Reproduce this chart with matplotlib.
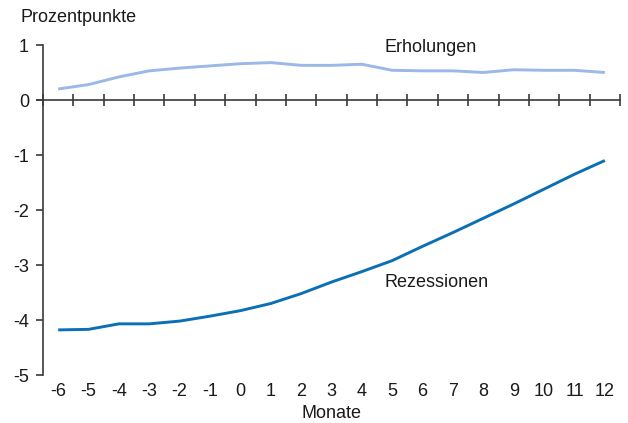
import matplotlib
matplotlib.use("Agg")
import matplotlib.pyplot as plt
import numpy as np

months = [-6, -5, -4, -3, -2, -1, 0, 1, 2, 3, 4, 5, 6, 7, 8, 9, 10, 11, 12]
erholungen = [0.20, 0.28, 0.42, 0.53, 0.58, 0.62, 0.66, 0.68, 0.63, 0.63, 0.65,
              0.54, 0.53, 0.53, 0.50, 0.55, 0.54, 0.54, 0.50]
rezessionen = [-4.18, -4.17, -4.07, -4.07, -4.02, -3.93, -3.83, -3.70, -3.52, -3.31,
               -3.12, -2.92, -2.66, -2.41, -2.15, -1.89, -1.62, -1.35, -1.10]
yticks = [1, 0, -1, -2, -3, -4, -5]

plt.rcParams['font.family'] = ['Liberation Sans', 'DejaVu Sans']
axis_col = '#3a3a3a'
txt_col = '#1a1a1a'
fs = 13

fig = plt.figure(figsize=(6.28, 4.23), dpi=100)
ax = fig.add_axes([43/628, 1-375/423, (620-43)/628, (375-45)/423])

ax.plot(months, erholungen, color='#9bb8e6', lw=2.1, solid_capstyle='butt')
ax.plot(months, rezessionen, color='#0a6fb5', lw=2.1, solid_capstyle='butt')

ax.set_xlim(-6.5, 12.5)
ax.set_ylim(-5, 1)

for s in ['top', 'right']:
    ax.spines[s].set_visible(False)
ax.spines['left'].set_color(axis_col)
ax.spines['left'].set_linewidth(1.2)
ax.spines['bottom'].set_position(('data', 0))
ax.spines['bottom'].set_color(axis_col)
ax.spines['bottom'].set_linewidth(1.2)
ax.spines['bottom'].set_bounds(-6.7, 12.5)

ax.set_yticks(yticks)
ax.set_yticklabels([str(v) for v in yticks])
ax.tick_params(axis='y', direction='out', length=5, width=1.2, color=axis_col,
               labelsize=fs, labelcolor=txt_col, pad=5)

ax.set_xticks(np.arange(-6.5, 12.51, 1.0))
ax.tick_params(axis='x', direction='inout', length=8, width=1.2, color=axis_col,
               labelbottom=False)

sec = ax.secondary_xaxis(0.0)
sec.set_xticks(months)
sec.set_xticklabels([str(m) for m in months])
sec.tick_params(length=0, labelsize=fs, labelcolor=txt_col, pad=6)
sec.spines['bottom'].set_visible(False)
sec.set_xlabel('Monate', fontsize=fs, color=txt_col, labelpad=3)

fig.text(20/628, 1-18/423, 'Prozentpunkte', fontsize=fs, color=txt_col,
         va='center', ha='left')
ax.text(4.76, 0.96, 'Erholungen', fontsize=fs, color=txt_col, va='center', ha='left')
ax.text(4.76, -3.31, 'Rezessionen', fontsize=fs, color=txt_col, va='center', ha='left')

fig.savefig('out.png', dpi=100)
